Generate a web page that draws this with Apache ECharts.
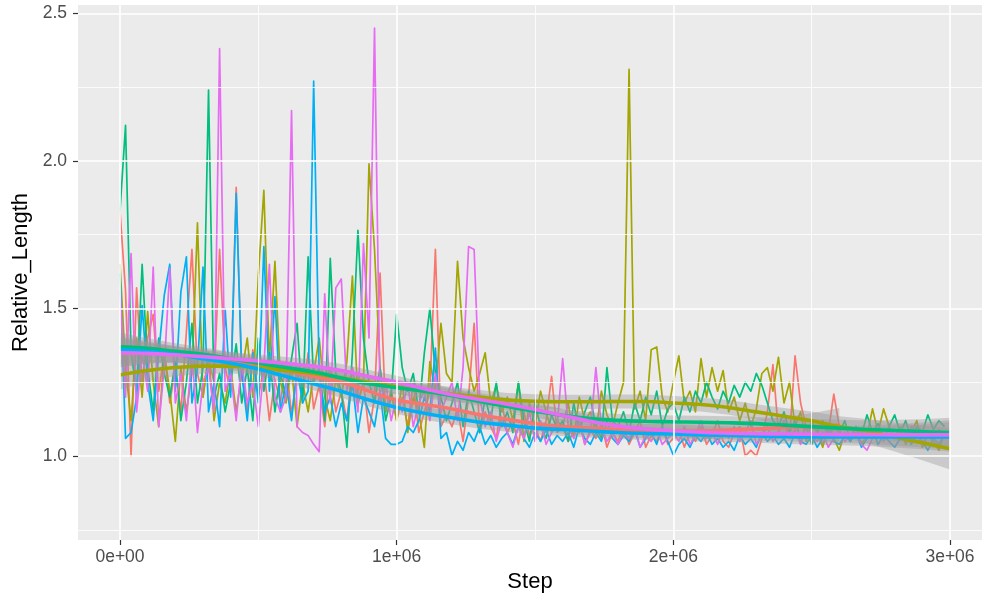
<!DOCTYPE html>
<html><head><meta charset="utf-8">
<script src="https://cdn.jsdelivr.net/npm/echarts@6/dist/echarts.min.js"></script>
<style>html,body{margin:0;padding:0;background:#fff}#c{width:982px;height:600px}</style>
</head><body><div id="c"></div>
<script>
// ---------- data ----------
const STEP = 20000;              // raw sampling step
const SMOOTH_STEP = 100000;      // smooth-curve sampling step
const seriesNames = ['A','B','C','D','E'];
const colors = ['#F8766D','#A3A500','#00BF7D','#00B0F6','#E76BF3'];

const rawRed = [
1.83,1.56,1.00,1.57,1.25,1.40,1.48,1.22,1.35,1.18,
1.30,1.15,1.42,1.70,1.28,1.20,1.33,1.25,1.70,1.30,
1.22,1.91,1.28,1.15,1.36,1.20,1.30,1.12,1.26,1.18,
1.32,1.14,1.28,1.20,1.35,1.16,1.24,1.10,1.30,1.15,
1.22,1.12,1.30,1.18,1.25,1.08,1.20,1.62,1.15,1.22,
1.12,1.20,1.10,1.25,1.08,1.15,1.22,1.70,1.10,1.14,
1.10,1.16,1.05,1.20,1.45,1.08,1.15,1.10,1.06,1.18,
1.08,1.12,1.04,1.15,1.07,1.10,1.05,1.12,1.27,1.08,
1.10,1.05,1.08,1.12,1.04,1.09,1.06,1.11,1.03,1.08,
1.05,1.10,1.04,1.08,1.12,1.03,1.07,1.05,1.10,1.04,
1.06,1.09,1.03,1.08,1.05,1.10,1.04,1.07,1.12,1.05,
1.03,1.08,1.10,1.00,1.02,1.00,1.06,1.15,1.31,1.08,
1.12,1.06,1.34,1.18,1.10,1.05,1.09,1.04,1.08,1.21,
1.10];
const rawOlive = [
1.65,1.30,1.12,1.40,1.20,1.49,1.25,1.10,1.35,1.22,
1.05,1.30,1.15,1.28,1.79,1.20,1.35,1.12,1.25,1.18,
1.30,1.15,1.28,1.40,1.20,1.61,1.90,1.32,1.66,1.25,
1.18,1.30,1.10,1.25,1.15,1.28,1.40,1.20,1.12,1.26,
1.20,1.32,1.61,1.18,1.25,1.99,1.70,1.30,1.15,1.22,
1.12,1.25,1.08,1.20,1.15,1.03,1.32,1.22,1.45,1.28,
1.25,1.66,1.40,1.30,1.22,1.28,1.35,1.18,1.24,1.15,
1.20,1.12,1.25,1.05,1.18,1.10,1.22,1.15,1.08,1.12,
1.10,1.18,1.06,1.20,1.12,1.15,1.08,1.22,1.14,1.10,
1.18,1.25,2.31,1.16,1.22,1.12,1.36,1.37,1.20,1.15,
1.25,1.34,1.18,1.22,1.15,1.33,1.20,1.30,1.22,1.29,
1.15,1.20,1.12,1.18,1.10,1.16,1.28,1.30,1.22,1.335,
1.18,1.25,1.10,1.15,1.05,1.12,1.08,1.03,1.10,1.06,
1.02,1.08,1.05,1.10,1.04,1.07,1.16,1.08,1.16,1.10,
1.06,1.10,1.04,1.08,1.12,1.03,1.07,1.05,1.02,1.08];
const rawGreen = [
1.83,2.12,1.35,1.22,1.65,1.30,1.15,1.40,1.28,1.20,
1.32,1.12,1.25,1.45,1.18,1.30,2.24,1.20,1.28,1.15,
1.25,1.38,1.18,1.30,1.12,1.40,1.22,1.35,1.15,1.28,
1.20,1.33,1.45,1.18,1.675,1.25,1.30,1.12,1.67,1.28,
1.22,1.03,1.35,1.765,1.40,1.25,1.18,1.30,1.12,1.20,
1.48,1.30,1.22,1.28,1.15,1.35,1.50,1.28,1.20,1.12,
1.18,1.25,1.10,1.22,1.15,1.08,1.20,1.12,1.25,1.10,
1.15,1.08,1.25,1.12,1.05,1.18,1.10,1.06,1.14,1.09,
1.12,1.05,1.18,1.08,1.15,1.20,1.10,1.06,1.30,1.12,
1.10,1.15,1.08,1.18,1.12,1.20,1.14,1.22,1.10,1.16,
1.18,1.12,1.20,1.15,1.22,1.18,1.25,1.20,1.16,1.22,
1.18,1.24,1.20,1.25,1.22,1.28,1.24,1.18,1.12,1.10,
1.15,1.08,1.12,1.06,1.10,1.04,1.08,1.12,1.06,1.10,
1.08,1.12,1.05,1.10,1.07,1.14,1.08,1.11,1.06,1.10,
1.14,1.08,1.12,1.06,1.10,1.08,1.14,1.09,1.12,1.10];
const rawBlue = [
1.62,1.06,1.08,1.20,1.51,1.25,1.12,1.35,1.545,1.65,
1.22,1.556,1.675,1.18,1.30,1.64,1.15,1.25,1.10,1.50,
1.20,1.89,1.28,1.12,1.35,1.18,1.71,1.22,1.54,1.15,
1.25,1.12,1.30,1.18,1.22,2.27,1.28,1.15,1.20,1.10,
1.18,1.12,1.25,1.08,1.20,1.15,1.10,1.22,1.06,1.04,
1.04,1.05,1.10,1.08,1.12,1.20,1.15,1.366,1.06,1.08,
1.003,1.05,1.02,1.08,1.05,1.10,1.04,1.07,1.03,1.06,
1.08,1.04,1.10,1.06,1.03,1.08,1.05,1.09,1.04,1.07,
1.05,1.08,1.03,1.10,1.06,1.04,1.08,1.05,1.12,1.06,
1.04,1.07,1.05,1.09,1.03,1.06,1.08,1.04,1.10,1.05,
1.003,1.04,1.06,1.03,1.07,1.05,1.08,1.04,1.06,1.03,
1.05,1.02,1.07,1.04,1.06,1.03,1.08,1.05,1.07,1.04,
1.06,1.03,1.08,1.05,1.04,1.07,1.03,1.06,1.09,1.05,
1.04,1.07,1.05,1.08,1.03,1.06,1.09,1.04,1.07,1.05,
1.03,1.06,1.08,1.04,1.07,1.05,1.02,1.06,1.04,1.07];
const rawMagenta = [
1.56,1.20,1.686,1.15,1.35,1.22,1.64,1.10,1.30,1.635,
1.18,1.28,1.12,1.35,1.08,1.25,1.30,1.15,2.38,1.22,
1.28,1.12,1.32,1.18,1.25,1.10,1.30,1.65,1.20,1.15,
1.20,2.17,1.10,1.08,1.07,1.04,1.015,1.55,1.18,1.57,
1.60,1.22,1.30,1.15,1.72,1.40,2.45,1.18,1.25,1.12,
1.20,1.15,1.25,1.10,1.18,1.22,1.12,1.28,1.15,1.20,
1.25,1.12,1.30,1.71,1.70,1.20,1.10,1.15,1.05,1.12,
1.08,1.03,1.10,1.06,1.15,1.05,1.12,1.04,1.08,1.10,
1.33,1.10,1.06,1.12,1.04,1.08,1.30,1.10,1.05,1.08,
1.04,1.08,1.06,1.10,1.03,1.07,1.05,1.09,1.04,1.06,
1.08,1.05,1.10,1.04,1.07,1.12,1.06,1.08,1.04,1.09,
1.06,1.10,1.05,1.08,1.12,1.04,1.07,1.10,1.05,1.08,
1.12,1.06,1.09,1.04,1.10,1.07,1.05,1.08,1.03,1.06,
1.09,1.05,1.07,1.10,1.04,1.02,1.06,1.08,1.05,1.09,
1.06,1.08,1.05,1.10,1.07,1.04,1.08,1.06,1.09,1.07];

// smoothed fits (every 0.1e6) and their confidence half widths
const fitRed = [1.35,1.35,1.345,1.335,1.32,1.305,1.29,1.27,1.25,1.22,1.19,1.175,1.16,1.14,1.125,1.11,1.10,1.095,1.09,1.085,1.085,1.085,1.088,1.092,1.097,1.10,1.105];
const seRed  = [0.05,0.035,0.028,0.025,0.024,0.024,0.024,0.024,0.024,0.024,0.024,0.024,0.024,0.024,0.024,0.024,0.024,0.024,0.024,0.024,0.025,0.026,0.028,0.031,0.036,0.045,0.058];
const fitOlive = [1.275,1.29,1.30,1.305,1.305,1.30,1.29,1.28,1.265,1.25,1.235,1.22,1.21,1.20,1.19,1.186,1.184,1.184,1.185,1.185,1.18,1.175,1.165,1.15,1.135,1.12,1.10,1.085,1.065,1.045,1.025];
const seOlive = [0.05,0.036,0.029,0.026,0.025,0.024,0.024,0.024,0.024,0.024,0.024,0.024,0.024,0.024,0.024,0.024,0.024,0.024,0.024,0.024,0.024,0.024,0.025,0.026,0.028,0.031,0.035,0.041,0.049,0.059,0.07];
const fitGreen = [1.37,1.365,1.355,1.345,1.33,1.315,1.30,1.285,1.265,1.245,1.232,1.22,1.205,1.185,1.168,1.152,1.138,1.127,1.121,1.118,1.116,1.115,1.113,1.11,1.105,1.10,1.095,1.09,1.087,1.083,1.08];
const fitBlue = [1.36,1.355,1.345,1.33,1.315,1.295,1.27,1.245,1.22,1.19,1.165,1.145,1.13,1.115,1.105,1.095,1.09,1.085,1.08,1.077,1.075,1.072,1.07,1.068,1.066,1.065,1.065,1.065,1.065,1.065,1.065];
const fitMagenta = [1.35,1.348,1.343,1.337,1.33,1.322,1.314,1.305,1.29,1.27,1.25,1.228,1.208,1.192,1.176,1.158,1.138,1.118,1.102,1.092,1.086,1.081,1.078,1.076,1.075,1.074,1.073,1.073,1.072,1.072,1.072];
const seFull = [0.048,0.034,0.027,0.024,0.023,0.022,0.022,0.022,0.022,0.022,0.022,0.022,0.022,0.022,0.022,0.022,0.022,0.022,0.022,0.022,0.022,0.022,0.022,0.023,0.024,0.026,0.028,0.031,0.036,0.042,0.05];

// axes
const xMin = -151800, xMax = 3115700, yMin = 0.716, yMax = 2.528;
const xTicks = [0,1000000,2000000,3000000];
const xTickLabels = ['0e+00','1e+06','2e+06','3e+06'];
const xMinor = [500000,1500000,2500000];
const yTicks = [1.0,1.5,2.0,2.5];
const yTickLabels = ['1.0','1.5','2.0','2.5'];
const yMinor = [0.75,1.25,1.75,2.25];

// ---------- build ----------
const raws = [rawRed, rawOlive, rawGreen, rawBlue, rawMagenta];
const fits = [fitRed, fitOlive, fitGreen, fitBlue, fitMagenta];
const ses  = [seRed, seOlive, seFull, seFull, seFull];

const series = [];
const gridLines = [];
xMinor.forEach(v=>gridLines.push({xAxis:v, lineStyle:{color:'#fff',width:0.8,type:'solid'}}));
yMinor.forEach(v=>gridLines.push({yAxis:v, lineStyle:{color:'#fff',width:0.8,type:'solid'}}));
xTicks.forEach(v=>gridLines.push({xAxis:v, lineStyle:{color:'#fff',width:1.6,type:'solid'}}));
yTicks.forEach(v=>gridLines.push({yAxis:v, lineStyle:{color:'#fff',width:1.6,type:'solid'}}));
series.push({type:'line', data:[], z:1, silent:true,
  markLine:{silent:true, symbol:['none','none'], label:{show:false}, animation:false, data:gridLines}});

raws.forEach((arr,k)=>{
  series.push({type:'line', name:seriesNames[k], z:2, showSymbol:false, symbol:'none',
    data: arr.map((v,i)=>[i*STEP, v]),
    lineStyle:{color:colors[k], width:1.7, join:'round'}, itemStyle:{color:colors[k]}, clip:true, animation:false});
});

fits.forEach((fit,k)=>{
  const se = ses[k];
  const xs = fit.map((v,i)=>i*SMOOTH_STEP);
  series.push({type:'custom', z:3, silent:true, clip:true, animation:false,
    data:[[0,1]],
    renderItem:function(params, api){
      const up = fit.map((v,i)=>api.coord([xs[i], v+se[i]]));
      const lo = fit.map((v,i)=>api.coord([xs[i], v-se[i]])).reverse();
      return {type:'polygon', shape:{points: up.concat(lo)},
        style:{fill:'rgba(153,153,153,0.4)'}};
    }});
  series.push({type:'line', z:3, showSymbol:false, symbol:'none', smooth:0.4,
    data: fit.map((v,i)=>[xs[i], v]),
    lineStyle:{color:colors[k], width:3.6}, clip:true, animation:false});
});

const chart = echarts.init(document.getElementById('c'), null, {renderer:'canvas'});
chart.setOption({
  animation:false,
  backgroundColor:'#ffffff',
  grid:{left:78, right:0, top:5, bottom:60, show:true, backgroundColor:'#EBEBEB', borderWidth:0},
  xAxis:{type:'value', min:xMin, max:xMax,
    name:'Step', nameLocation:'middle', nameGap:31,
    nameTextStyle:{color:'#000', fontSize:22, fontFamily:'Liberation Sans'},
    axisLine:{show:false, onZero:false},
    axisTick:{show:true, length:5, lineStyle:{color:'#333', width:1.2}, customValues:xTicks},
    axisLabel:{show:true, customValues:xTicks, margin:8, color:'#4D4D4D', fontSize:17.5, fontFamily:'Liberation Sans',
      formatter:(v)=>{const i=xTicks.indexOf(v); return i>=0?xTickLabels[i]:'';}},
    splitLine:{show:false}},
  yAxis:{type:'value', min:yMin, max:yMax,
    name:'Relative_Length', nameLocation:'middle', nameGap:43, nameRotate:90,
    nameTextStyle:{color:'#000', fontSize:22, fontFamily:'Liberation Sans'},
    axisLine:{show:false, onZero:false},
    axisTick:{show:true, length:5, lineStyle:{color:'#333', width:1.2}, customValues:yTicks},
    axisLabel:{show:true, customValues:yTicks, margin:11, color:'#4D4D4D', fontSize:17.5, fontFamily:'Liberation Sans',
      formatter:(v)=>{let i=-1; yTicks.forEach((t,j)=>{if(Math.abs(t-v)<1e-9)i=j;}); return i>=0?yTickLabels[i]:'';}},
    splitLine:{show:false}},
  series:series
});
</script></body></html>
